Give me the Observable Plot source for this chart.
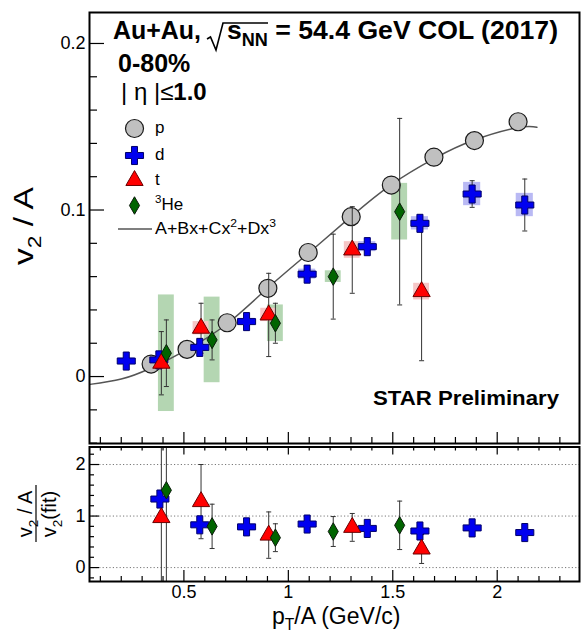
<!DOCTYPE html>
<html><head><meta charset="utf-8">
<script src="https://cdn.jsdelivr.net/npm/d3@7"></script>
<script src="https://cdn.jsdelivr.net/npm/@observablehq/plot@0.6"></script>
<style>
body{margin:0;background:#fff;}
#chart{position:relative;width:581px;height:633px;overflow:hidden;background:#fff;}
#chart svg{position:absolute;left:0;display:block;}
</style></head><body><div id="chart"></div>
<script>
const FONT = "'Liberation Sans', Arial, Helvetica, sans-serif";

// ---- upper panel: v2/A vs pT/A ----
const pX = [0.343, 0.515, 0.707, 0.902, 1.095, 1.301, 1.493, 1.697, 1.891, 2.100];
const pY = [0.0075, 0.0163, 0.0323, 0.053, 0.0745, 0.096, 0.115, 0.1317, 0.1417, 0.153];

const dX = [0.224, 0.38, 0.576, 0.80, 1.09, 1.378, 1.63, 1.88, 2.132];
const dY = [0.0093, 0.010, 0.0175, 0.033, 0.0615, 0.078, 0.092, 0.1096, 0.103];
const dErr = [0.003, 0.003, 0.003, 0.003, 0.003, 0.003, 0.004, 0.008, 0.0156];
const dSys = [0.002, 0.002, 0.002, 0.002, 0.003, 0.003, 0.004, 0.007, 0.007];

const tX = [0.392, 0.582, 0.906, 1.306, 1.638];
const tY = [0.008, 0.029, 0.037, 0.076, 0.051];
const tErr = [0.019, 0.015, 0.025, 0.026, 0.0415];
const tSys = [0.004, 0.004, 0.004, 0.005, 0.005];

const hX = [0.416, 0.635, 0.938, 1.215, 1.533];
const hY = [0.014, 0.022, 0.032, 0.060, 0.099];
const hErr = [0.020, 0.012, 0.012, 0.0255, 0.056];
const hSys = [0.035, 0.0257, 0.011, 0.0035, 0.017];

// fit curve A+Bx+Cx^2+Dx^3
const fitX = [0.05, 0.20, 0.34, 0.52, 0.71, 0.90, 1.10, 1.30, 1.49, 1.70, 1.89, 2.10, 2.19];
const fitY = [-0.0047, -0.0015, 0.005, 0.0165, 0.032, 0.053, 0.0745, 0.096, 0.115, 0.131, 0.142, 0.1495, 0.1497];

// ---- lower panel: ratio to fit ----
const dRX = [0.385, 0.576, 0.80, 1.09, 1.378, 1.63, 1.88, 2.132];
const dR = [1.33, 0.83, 0.79, 0.845, 0.76, 0.71, 0.77, 0.68];
const dRErr = [0.15, 0.05, 0.05, 0.05, 0.05, 0.05, 0.06, 0.1];

const tRX = [0.392, 0.582, 0.906, 1.306, 1.638];
const tR = [0.97, 1.28, 0.63, 0.78, 0.36];
const tRErr = [5, 0.72, 0.45, 0.27, 0.28];

const hRX = [0.416, 0.635, 0.938, 1.215, 1.533];
const hR = [1.50, 0.80, 0.58, 0.70, 0.82];
const hRErr = [5, 0.43, 0.27, 0.29, 0.47];

// ---- ticks ----
const xMajor = [0.5, 1, 1.5, 2];
const xMinor = [0.1,0.2,0.3,0.4,0.6,0.7,0.8,0.9,1.1,1.2,1.3,1.4,1.6,1.7,1.8,1.9,2.1,2.2,2.3];
const yMajor = [0, 0.1, 0.2];
const yMinor = [-0.04,-0.02,0.02,0.04,0.06,0.08,0.12,0.14,0.16,0.18];
const rMajor = [0, 1, 2];
const rMinor = [-0.2,0.2,0.4,0.6,0.8,1.2,1.4,1.6,1.8,2.2];
const rGrid = [0, 1, 2];

const xDomain = [0.048, 2.394];

const zip = (xs, ys, e, s) => xs.map((x, i) => ({x, y: ys[i], err: e ? e[i] : 0, sys: s ? s[i] : 0}));
const P = zip(pX, pY);
const D = zip(dX, dY, dErr, dSys);
const T = zip(tX, tY, tErr, tSys);
const H = zip(hX, hY, hErr, hSys);
const FIT = fitX.map((x, i) => ({x, y: fitY[i]}));
const DR = zip(dRX, dR, dRErr);
const TR = zip(tRX, tR, tRErr);
const HR = zip(hRX, hR, hRErr);

const cap = {draw(ctx) { ctx.moveTo(-2.5, 0); ctx.lineTo(2.5, 0); }};
const ends = (arr) => arr.flatMap(d => [{x: d.x, y: d.y - d.err}, {x: d.x, y: d.y + d.err}]);

const styles = {
  p: {symbol: "circle", r: 9, fill: "#c0c0c0", stroke: "#1a1a1a", strokeWidth: 1.2},
  d: {symbol: "cross", r: 7.6, fill: "#0000f0", stroke: "#00006a", strokeWidth: 1},
  t: {symbol: "triangle", r: 6.4, fill: "#ff0000", stroke: "#6a0000", strokeWidth: 1},
  h: {symbol: "diamond", r: 5.3, fill: "#006400", stroke: "#0a1a0a", strokeWidth: 1}
};
const errStyle = {stroke: "#333", strokeWidth: 1};
const errMarks = (arr, clip) => [
  Plot.ruleX(arr, {x: "x", y1: d => d.y - d.err, y2: d => d.y + d.err, ...errStyle, clip}),
  Plot.dot(ends(arr), {x: "x", y: "y", symbol: cap, fill: "none", ...errStyle, clip})
];
const sysBox = (arr, fill, hw) => Plot.rect(arr, {x1: d => d.x - hw, x2: d => d.x + hw, y1: d => d.y - d.sys, y2: d => d.y + d.sys, fill});

const W = 581;
const uH = 445, uT = 12, uB = 2, mL = 89, mR = 2;
const uInnerW = W - mL - mR, uInnerH = uH - uT - uB;

const upper = Plot.plot({
  width: W, height: uH, marginLeft: mL, marginRight: mR, marginTop: uT, marginBottom: uB,
  x: {domain: xDomain, axis: null},
  y: {domain: [-0.0402, 0.2186]},
  style: {fontFamily: FONT, background: "transparent", color: "black", overflow: "visible"},
  marks: [
    sysBox(H, "#b4d6b2", 0.038),
    sysBox(T, "#f6c6c6", 0.038),
    sysBox(D, "#b9b9f4", 0.041),
    Plot.line(FIT, {x: "x", y: "y", curve: "natural", stroke: "#555", strokeWidth: 1.5}),
    Plot.dot(P, {x: "x", y: "y", ...styles.p}),
    ...errMarks(D), ...errMarks(T), ...errMarks(H),
    Plot.dot(D, {x: "x", y: "y", ...styles.d}),
    Plot.dot(T, {x: "x", y: "y", ...styles.t}),
    Plot.dot(H, {x: "x", y: "y", ...styles.h}),
    // legend markers
    Plot.dot([0], {frameAnchor: "top-left", dx: 45, dy: 116, ...styles.p}),
    Plot.dot([0], {frameAnchor: "top-left", dx: 45, dy: 143, ...styles.d}),
    Plot.dot([0], {frameAnchor: "top-left", dx: 45, dy: 168, ...styles.t}),
    Plot.dot([0], {frameAnchor: "top-left", dx: 45, dy: 193, ...styles.h}),
    // ticks
    Plot.tickY(yMajor, {y: d => d, insetRight: uInnerW - 15, stroke: "black", strokeWidth: 1.2}),
    Plot.tickY(yMinor, {y: d => d, insetRight: uInnerW - 8, stroke: "black", strokeWidth: 1.2}),
    Plot.tickX(xMajor, {x: d => d, insetTop: uInnerH - 11, stroke: "black", strokeWidth: 1.2}),
    Plot.tickX(xMinor, {x: d => d, insetTop: uInnerH - 6, stroke: "black", strokeWidth: 1.2}),
    Plot.axisY(yMajor, {anchor: "left", tickSize: 0, tickPadding: 4, fontSize: 18, label: null,
      tickFormat: d => d === 0 ? "0" : d.toFixed(1)}),
    Plot.frame({stroke: "black", strokeWidth: 2})
  ]
});

const lTop = 443, lH = 190, lT = 3.5, lB = 52;
const lInnerW = W - mL - mR, lInnerH = lH - lT - lB;

const lower = Plot.plot({
  width: W, height: lH, marginLeft: mL, marginRight: mR, marginTop: lT, marginBottom: lB,
  x: {domain: xDomain},
  y: {domain: [-0.27, 2.34]},
  style: {fontFamily: FONT, background: "transparent", color: "black", overflow: "visible"},
  marks: [
    Plot.ruleY(rGrid, {y: d => d, stroke: "#777", strokeDasharray: "1.2,2.2", strokeWidth: 1}),
    ...errMarks(DR, true), ...errMarks(TR, true), ...errMarks(HR, true),
    Plot.dot(DR, {x: "x", y: "y", ...styles.d}),
    Plot.dot(TR, {x: "x", y: "y", ...styles.t}),
    Plot.dot(HR, {x: "x", y: "y", ...styles.h}),
    Plot.tickY(rMajor, {y: d => d, insetRight: lInnerW - 10, stroke: "black", strokeWidth: 1.2}),
    Plot.tickY(rMinor, {y: d => d, insetRight: lInnerW - 5, stroke: "black", strokeWidth: 1.2}),
    Plot.tickX(xMajor, {x: d => d, insetTop: lInnerH - 11, stroke: "black", strokeWidth: 1.2}),
    Plot.tickX(xMinor, {x: d => d, insetTop: lInnerH - 5, stroke: "black", strokeWidth: 1.2}),
    Plot.tickX(xMajor, {x: d => d, insetBottom: lInnerH - 8, stroke: "black", strokeWidth: 1.2}),
    Plot.tickX(xMinor, {x: d => d, insetBottom: lInnerH - 4, stroke: "black", strokeWidth: 1.2}),
    Plot.axisX(xMajor, {anchor: "bottom", tickSize: 0, tickPadding: 4, fontSize: 18, label: null,
      tickFormat: d => String(d)}),
    Plot.axisY(rMajor, {anchor: "left", tickSize: 0, tickPadding: 4, fontSize: 18, label: null,
      tickFormat: d => String(d)}),
    Plot.frame({stroke: "black", strokeWidth: 2})
  ]
});

const chart = document.getElementById("chart");
upper.style.top = "0px";
lower.style.top = lTop + "px";
chart.appendChild(upper);
chart.appendChild(lower);

// ---- rich text helper ----
function addText(sel, o, parts) {
  const t = sel.append("text").attr("font-family", FONT).attr("font-size", o.size)
    .attr("font-weight", o.weight || "normal").attr("text-anchor", o.anchor || "start").attr("fill", "black");
  if (o.transform) t.attr("transform", o.transform); else t.attr("x", o.x).attr("y", o.y);
  let shift = 0;
  for (const p of parts) {
    const s = typeof p === "string" ? {t: p} : p;
    const target = s.sub ? o.size * 0.28 : s.sup ? -o.size * 0.42 : 0;
    const ts = t.append("tspan").text(s.t).attr("dy", target - shift);
    if (s.sub || s.sup) ts.attr("font-size", o.size * 0.68);
    if (s.weight) ts.attr("font-weight", s.weight);
    shift = target;
  }
  if (o.length) t.attr("textLength", o.length).attr("lengthAdjust", "spacingAndGlyphs");
  return t;
}

const U = d3.select(upper);
const L = d3.select(lower);

// title
addText(U, {x: 113, y: 39, size: 26, weight: "bold", length: 88}, ["Au+Au,"]);
U.append("path").attr("d", "M207,39 L210.5,37 L216,50 L223,23 L268,23")
  .attr("fill", "none").attr("stroke", "black").attr("stroke-width", 1.6);
addText(U, {x: 227, y: 39, size: 26, weight: "bold", length: 331}, ["s", {t: "NN", sub: true}, " = 54.4 GeV COL (2017)"]);
addText(U, {x: 118, y: 72, size: 25, weight: "bold"}, ["0-80%"]);
addText(U, {x: 121, y: 100, size: 24}, ["| η |≤", {t: "1.0", weight: "bold"}]);

// legend text
addText(U, {x: 155, y: 133, size: 17}, ["p"]);
addText(U, {x: 155, y: 160, size: 17}, ["d"]);
addText(U, {x: 155, y: 185, size: 17}, ["t"]);
addText(U, {x: 155, y: 210, size: 17}, [{t: "3", sup: true}, "He"]);
U.append("line").attr("x1", 118).attr("x2", 152).attr("y1", 229).attr("y2", 229)
  .attr("stroke", "#555").attr("stroke-width", 1.5);
addText(U, {x: 155, y: 234, size: 17, length: 121}, ["A+Bx+Cx", {t: "2", sup: true}, "+Dx", {t: "3", sup: true}]);

addText(U, {x: 373, y: 405, size: 21, weight: "bold", length: 186}, ["STAR Preliminary"]);

// y label upper
addText(U, {transform: "translate(33,226) rotate(-90)", size: 28, anchor: "middle", length: 78}, ["v", {t: "2", sub: true}, " / A"]);

// lower y label (fraction)
addText(L, {transform: "translate(32,71) rotate(-90)", size: 20, anchor: "middle"}, ["v", {t: "2", sub: true}, " / A"]);
L.append("line").attr("x1", 36).attr("x2", 36).attr("y1", 42).attr("y2", 99).attr("stroke", "black").attr("stroke-width", 1.2);
addText(L, {transform: "translate(56,71) rotate(-90)", size: 20, anchor: "middle"}, ["v", {t: "2", sub: true}, "(fit)"]);

// x label
addText(L, {x: 272, y: 181, size: 23}, ["p", {t: "T", sub: true}, "/A (GeV/c)"]);
</script></body></html>
